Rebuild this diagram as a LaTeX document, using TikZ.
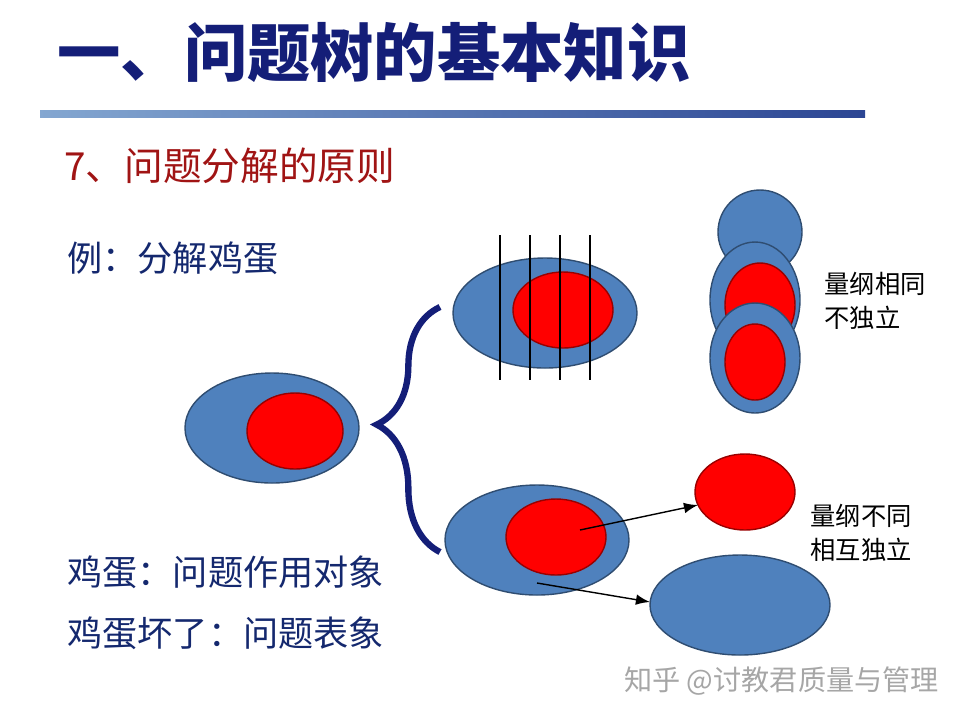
\documentclass[tikz,border=0pt]{standalone}
\usepackage{fontspec}
\usepackage{xcolor}
\setmainfont{Noto Sans CJK SC}
\usetikzlibrary{decorations.pathreplacing}
\definecolor{eggblue}{RGB}{79,129,189}
\definecolor{titleblue}{RGB}{20,30,120}
\definecolor{subred}{RGB}{160,20,20}
\definecolor{textblue}{RGB}{20,40,110}
\begin{document}
\begin{tikzpicture}[x=0.01cm,y=-0.01cm,
  white/.style={fill=eggblue,draw=eggblue!60!black,thin},
  yolk/.style={fill=red,draw=red!60!black,thin},
  note/.style={anchor=west,align=left,font=\fontsize{7.2}{9.5}\selectfont}]
\useasboundingbox (0,0) rectangle (960,720);

% Title and rule
\node[anchor=west,text=titleblue,font=\fontsize{18}{20}\selectfont\bfseries] (title) at (45,52) {一、问题树的基本知识};
\shade[left color=eggblue!70,right color=eggblue!40!titleblue] (40,110) rectangle (865,117);
\node[anchor=west,text=subred,font=\fontsize{11}{13}\selectfont] (sub) at (52,166) {7、问题分解的原则};
\node[anchor=west,text=textblue,font=\fontsize{10}{13}\selectfont] (example) at (55,258) {例：分解鸡蛋};
\node[anchor=west,text=textblue,font=\fontsize{10}{13}\selectfont] (object) at (55,572) {鸡蛋：问题作用对象};
\node[anchor=west,text=textblue,font=\fontsize{10}{13}\selectfont] (symptom) at (55,633) {鸡蛋坏了：问题表象};

% Left egg
\draw[white] (272,428) ellipse (87 and 55);
\draw[yolk] (295,431) ellipse (48 and 38);

% Brace
\draw[titleblue,line width=1.8pt,decorate,decoration={brace,amplitude=18pt,aspect=0.52}] (440,552) -- (440,307);

% Top egg, sliced
\draw[white] (545,313) ellipse (92 and 55);
\draw[yolk] (563,310) ellipse (50 and 38);
\foreach \x in {500,530,560,590}
  \draw (\x,235) -- (\x,380);

% Stacked eggs
\draw[white] (760,232) ellipse (42 and 42);
\draw[white] (755,300) ellipse (45 and 58);
\draw[yolk] (760,305) ellipse (35 and 42);
\draw[white] (755,358) ellipse (45 and 55);
\draw[yolk] (755,362) ellipse (30 and 38);
\node[note] (same) at (812,301) {量纲相同\\不独立};

% Bottom egg, separated
\draw[white] (537,540) ellipse (92 and 55);
\draw[yolk] (556,537) ellipse (50 and 38);
\draw[yolk] (745,492) ellipse (50 and 38);
\draw[white] (740,605) ellipse (90 and 50);
\coordinate (yolkin) at (580,530);
\coordinate (yolkout) at (698,505);
\coordinate (whitein) at (537,583);
\coordinate (whiteout) at (650,602);
\draw[-latex] (yolkin) -- (yolkout);
\draw[-latex] (whitein) -- (whiteout);
\node[note] (diff) at (798,533) {量纲不同\\相互独立};

% Watermark
\node[anchor=west,text=black!35,font=\fontsize{8}{10}\selectfont] (mark) at (612,681) {知乎 @讨教君质量与管理};
\end{tikzpicture}
\end{document}
